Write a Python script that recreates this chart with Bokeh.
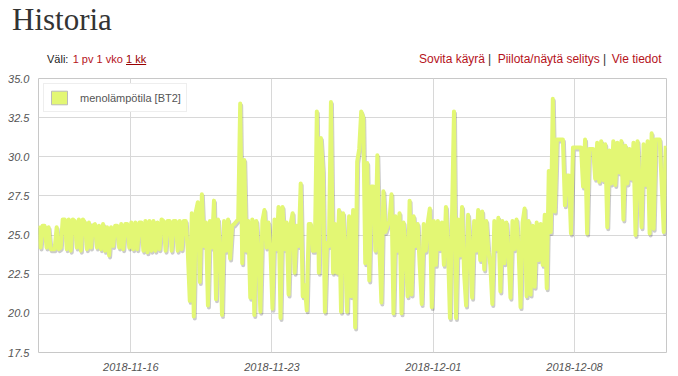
from datetime import datetime, timedelta
from bokeh.plotting import figure
from bokeh.layouts import column
from bokeh.models import (Range1d, FixedTicker, DatetimeTickFormatter, NumeralTickFormatter,
                          Legend, LegendItem, ColumnDataSource, Div)
from bokeh.embed import file_html
from bokeh.resources import INLINE

# ---------------- data ----------------
series_name = "menolämpötila [BT2]"
start_time = datetime(2018, 11, 11, 10, 10)
step_hours = 2.4
temps = [
    # 2018-11-11 .. 2018-11-17
    25.6, 24.2, 25.6, 25.6, 24.2, 25.5, 24.1, 24.1, 24.1, 25.5,
    24.1, 24.2, 26.0, 26.0, 24.1, 26.0, 24.0, 26.0, 25.9, 24.2,
    26.0, 24.0, 26.0, 25.8, 24.1, 25.8, 24.2, 25.6, 25.7, 24.2,
    25.6, 24.1, 25.7, 24.0, 25.5, 23.7, 25.5, 24.3, 25.6, 25.6,
    24.2, 25.7, 24.1, 25.7, 25.7, 24.2, 25.8, 24.1, 25.8, 24.1,
    25.8, 25.8, 24.0, 25.9, 23.9, 25.9, 24.0, 25.9, 24.0, 25.8,
    24.1, 26.0,
    # 2018-11-17 .. 2018-11-23
    25.9, 24.0, 25.9, 25.9, 24.0, 25.9, 25.9, 24.0, 25.9, 24.1,
    25.9, 25.9, 24.0, 20.8, 26.4, 19.8, 26.5, 27.1, 22.0, 27.6,
    24.3, 25.8, 20.5, 25.9, 24.2, 27.2, 20.9, 26.0, 24.1, 19.9,
    25.9, 24.0, 26.0, 23.5, 25.6, 25.7, 25.85, 26.0, 33.4, 23.2,
    29.8, 24.0, 25.9, 21.0, 26.0, 19.9, 25.9, 24.0, 20.1, 25.9,
    26.6, 24.2, 25.8, 24.0, 20.3, 26.0, 24.1, 26.8, 19.7, 26.8,
    24.1,
    # 2018-11-23 .. 2018-11-30
    25.8, 21.2, 25.7, 26.4, 22.6, 25.6, 24.3, 28.3, 21.1, 21.8,
    20.2, 25.7, 25.7, 24.0, 24.0, 32.9, 22.6, 31.2, 29.1, 20.1,
    24.5, 24.3, 33.5, 22.6, 25.7, 22.6, 26.6, 20.1, 26.4, 24.1,
    20.1, 26.2, 21.1, 26.6, 19.1, 29.7, 30.5, 32.9, 32.5, 23.2,
    29.6, 22.1, 28.1, 28.1, 24.0, 30.1, 24.3, 20.7, 27.8, 25.2,
    25.6, 25.9, 27.6, 20.0, 26.2, 24.0, 26.4, 20.0, 25.8, 24.2,
    21.1, 27.2, 21.2,
    # 2018-11-30 .. 2018-12-06
    26.2, 24.3, 25.7, 23.1, 20.6, 25.7, 24.0, 25.8, 26.7, 20.4,
    25.9, 23.1, 25.9, 24.1, 25.8, 23.1, 26.8, 24.2, 19.7, 26.0,
    32.9, 19.7, 26.0, 23.7, 26.8, 22.6, 20.5, 26.3, 24.1, 21.0,
    25.9, 24.0, 26.6, 23.4, 26.5, 22.8, 25.9, 24.0, 23.1, 20.6,
    25.9, 24.1, 26.1, 21.4, 25.9, 23.2, 25.8, 24.0, 21.0, 25.9,
    24.1, 26.0, 24.2, 20.4, 25.8, 26.7, 21.1, 25.9, 21.2, 25.6,
    21.7,
    # 2018-12-06 .. 2018-12-12
    25.8, 23.4, 25.7, 23.1, 26.3, 21.6, 29.1, 25.2, 33.7, 26.5,
    31.1, 31.1, 31.1, 31.1, 26.9, 28.8, 28.8, 25.1, 30.6, 30.6,
    30.6, 30.6, 30.6, 28.1, 31.1, 25.1, 30.5, 30.5, 30.5, 28.6,
    30.9, 28.4, 31.0, 28.5, 30.8, 25.5, 30.4, 28.3, 31.0, 28.2,
    30.9, 29.0, 31.0, 26.0, 30.7, 28.3, 30.5, 28.6, 30.9, 25.0,
    31.0, 28.4, 25.5, 30.8, 28.2, 31.0, 25.1, 31.5, 25.4, 31.1,
    31.1, 31.1, 28.2, 25.2, 30.7,
]
times = [start_time + timedelta(hours=step_hours * i) for i in range(len(temps))]

x_start = datetime(2018, 11, 11, 10, 10)
x_end = datetime(2018, 12, 12, 13, 28)
y_ticks = [17.5, 20.0, 22.5, 25.0, 27.5, 30.0, 32.5, 35.0]
x_tick_dates = [datetime(2018, 11, 16), datetime(2018, 11, 23),
                datetime(2018, 12, 1), datetime(2018, 12, 8)]

title_text = "Historia"
range_label = "Väli:"
range_links = "1 pv 1 vko"
range_active = "1 kk"
right_links = ["Sovita käyrä", "Piilota/näytä selitys", "Vie tiedot"]

# ---------------- styles ----------------
LINE_COLOR = "#e3f774"
LINK_COLOR = "#b5121b"
ACTIVE_COLOR = "#990000"
LABEL_COLOR = "#545454"
GRID_COLOR = "#d8d8d8"

W, H = 678, 376
HEAD_H = 72                          # header strip height
FL, FR, FT, FB = 38, 666, 78, 352    # frame edges on the page

def to_ms(d):
    return (d - datetime(1970, 1, 1)).total_seconds() * 1000.0

# ---------------- header strip ----------------
def span(left, top, text, size=11, color="#222222", font="'Liberation Sans', Arial, sans-serif",
         extra=""):
    return (f'<span style="position:absolute;left:{left}px;top:{top}px;font-family:{font};'
            f'font-size:{size}px;line-height:{size}px;color:{color};white-space:nowrap;{extra}">'
            f'{text}</span>')

def top_for(baseline, size):
    return round(baseline - 0.8465 * size, 1)

parts = [
    span(12, top_for(30, 31), title_text, size=31, color="#333333",
         font="'Liberation Serif', 'Times New Roman', serif"),
    span(47, top_for(63, 11), range_label, size=11, color="#222222"),
    span(72.7, top_for(63, 11), range_links, size=11, color=LINK_COLOR),
    span(126, top_for(63, 11), range_active, size=11, color=ACTIVE_COLOR,
         extra="text-decoration:underline;"),
    span(419, top_for(63, 12), right_links[0], size=12, color=LINK_COLOR),
    span(488, top_for(63, 12), "|", size=12, color="#333333"),
    span(497.7, top_for(63, 12), right_links[1], size=12, color=LINK_COLOR),
    span(603, top_for(63, 12), "|", size=12, color="#333333"),
    span(611.7, top_for(63, 12), right_links[2], size=12, color=LINK_COLOR),
]
header_html = (f'<div style="position:relative;width:{W}px;height:{HEAD_H}px;'
               f'background:white;margin:0;padding:0;">' + "".join(parts) + '</div>')
header = Div(text=header_html, width=W, height=HEAD_H, margin=0)

# ---------------- chart ----------------
px_day = (FR - FL) / ((x_end - x_start).total_seconds() / 86400.0)
dx = timedelta(days=1.0 / px_day)              # one pixel in time
dy = 2.0 * (35.0 - 17.5) / (FB - FT)           # two pixels in value

p = figure(width=W, height=H - HEAD_H, x_axis_type="datetime",
           output_backend="svg", toolbar_location=None,
           x_range=Range1d(x_start, x_end), y_range=Range1d(17.5, 35.0),
           min_border_left=FL, min_border_right=W - FR,
           min_border_top=FT - HEAD_H, min_border_bottom=H - FB, margin=0)
p.extra_x_ranges = {"sh": Range1d(x_start - dx, x_end - dx)}
p.extra_y_ranges = {"sh": Range1d(17.5 + dy, 35.0 + dy)}

src = ColumnDataSource(dict(t=times, v=temps))
p.line("t", "v", source=src, line_color="#000000", line_alpha=0.2, line_width=4,
       line_join="round", x_range_name="sh", y_range_name="sh")
p.line("t", "v", source=src, line_color=LINE_COLOR, line_width=4, line_join="round")

# legend swatch (a renderer with no drawable data, only for the legend)
nan = float("nan")
empty = ColumnDataSource(dict(l=[nan], r=[nan], t=[nan], b=[nan]))
sw = p.quad(left="l", right="r", top="t", bottom="b", source=empty,
            fill_color=LINE_COLOR, line_color="#bbbbbb")
legend = Legend(items=[LegendItem(label=series_name, renderers=[sw], index=0)],
                location="top_left", margin=5, padding=5, spacing=0,
                glyph_width=20, glyph_height=17, label_standoff=11,
                border_line_color="#dddddd", background_fill_color="white",
                background_fill_alpha=1.0,
                label_text_font="Liberation Sans", label_text_font_size="11px",
                label_text_color="#555555")
p.add_layout(legend)

# axes
p.xaxis.ticker = FixedTicker(ticks=[to_ms(d) for d in x_tick_dates])
fmt = "%Y-%m-%d"
p.xaxis.formatter = DatetimeTickFormatter(days=fmt, months=fmt, years=fmt, hours=fmt,
                                          hourmin=fmt, minutes=fmt)
p.yaxis.ticker = FixedTicker(ticks=y_ticks)
p.yaxis.formatter = NumeralTickFormatter(format="0.0")
for ax in (p.xaxis, p.yaxis):
    ax.axis_line_color = None
    ax.major_tick_line_color = None
    ax.minor_tick_line_color = None
    ax.major_label_text_font = "Liberation Sans"
    ax.major_label_text_font_size = "11px"
    ax.major_label_text_font_style = "italic"
    ax.major_label_text_color = LABEL_COLOR
p.yaxis.major_label_standoff = 3
p.xaxis.major_label_standoff = 4

p.grid.grid_line_color = GRID_COLOR
p.outline_line_color = "#c8c8c8"
p.outline_line_width = 1
p.background_fill_color = "white"
p.border_fill_color = "white"

layout = column(header, p, spacing=0, margin=0)
open("out.html", "w").write(file_html(layout, INLINE))
